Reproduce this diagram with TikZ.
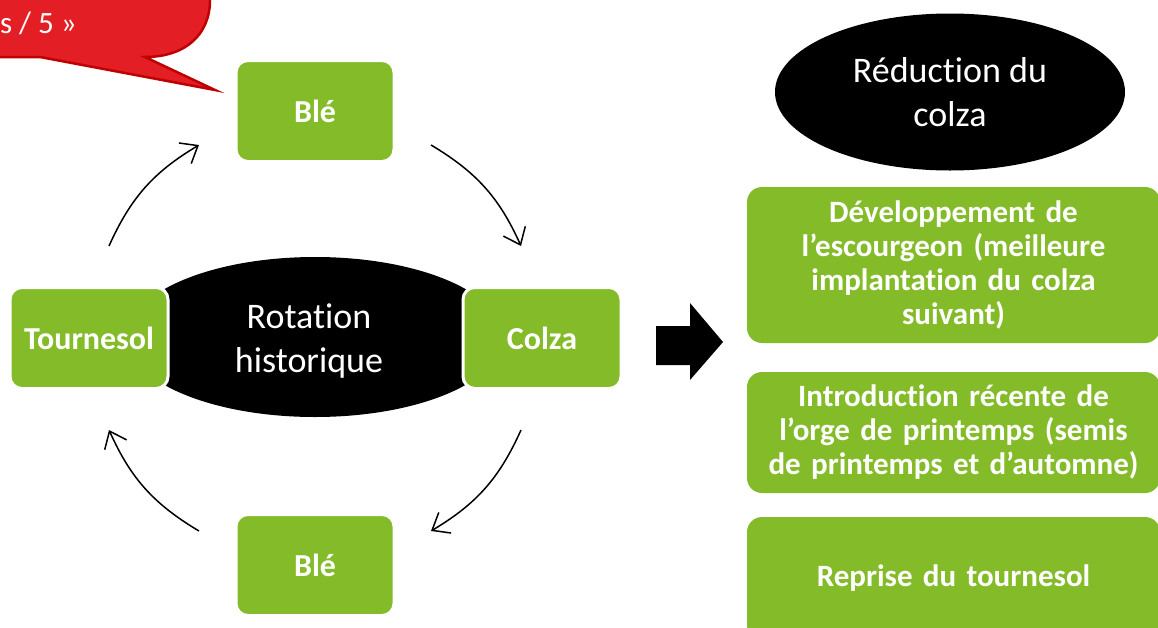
\documentclass[tikz,border=0pt]{standalone}
\usepackage{fontspec}
\setmainfont{Carlito}[Ligatures={TeX,NoCommon}]
\usetikzlibrary{arrows.meta,shapes.geometric}
\definecolor{leaf}{RGB}{132,187,41}
\definecolor{callred}{RGB}{227,30,36}
\definecolor{callborder}{RGB}{192,0,0}
\begin{document}
\begin{tikzpicture}[x=1pt,y=-1pt,
  greenbox/.style={draw=white, line width=3pt, fill=leaf, rounded corners=12pt,
    text=white, font=\bfseries\fontsize{32}{34}\selectfont, align=center,
    inner sep=0pt, minimum width=158pt, minimum height=101pt},
  sidebox/.style={fill=leaf, rounded corners=15pt, text=white,
    font=\bfseries\fontsize{31}{34}\selectfont, align=center, inner sep=0pt,
    minimum width=413pt, text width=405pt},
  blackoval/.style={ellipse, fill=black, inner sep=0pt},
  ovaltext/.style={text=white, font=\fontsize{36}{44}\selectfont, align=center, inner sep=0pt},
  cyclearrow/.style={-{Straight Barb[length=15pt,width=24pt]}, line width=1.5pt, bend left=17.5}
  ]
\useasboundingbox (0,0) rectangle (1158,627);

% callout (cut by the page edge)
\filldraw[fill=callred, draw=callborder, line width=2.5pt]
  (-10,-10) -- (210,-10) -- (210,0) .. controls (210,35) and (185,57) .. (145,57)
  -- (215,90) -- (40,57) -- (-10,57) -- cycle;
\node[anchor=base east, text=white, font=\fontsize{31}{34}\selectfont, inner sep=0pt]
  (callt) at (77,33) {s / 5 »};

% central oval
\node[blackoval, minimum width=376pt, minimum height=160pt] (rot) at (315,337) {};
\node[ovaltext, xshift=-6pt, yshift=-4pt] (rott) at (rot.center) {Rotation\\historique};

% cycle boxes
\node[greenbox] (ble1) at (315,111) {Blé};
\node[greenbox] (colza) at (542,338) {Colza};
\node[greenbox] (ble2) at (315,565) {Blé};
\node[greenbox] (tourn) at (89,338) {Tournesol};

% cycle arrows
\coordinate (a1s) at (109,246); \coordinate (a1e) at (199,145);
\coordinate (a2s) at (431,145); \coordinate (a2e) at (521,246);
\coordinate (a3s) at (521,430); \coordinate (a3e) at (431,531);
\coordinate (a4s) at (199,531); \coordinate (a4e) at (109,430);
\draw[cyclearrow] (a1s) to (a1e);
\draw[cyclearrow] (a2s) to (a2e);
\draw[cyclearrow] (a3s) to (a3e);
\draw[cyclearrow] (a4s) to (a4e);

% block arrow
\fill[black] (656,326) -- (690,326) -- (690,303) -- (723,342) -- (690,380)
  -- (690,365) -- (656,365) -- cycle;

% right side
\node[blackoval, minimum width=350pt, minimum height=157pt] (red) at (950,92) {};
\node[ovaltext] (redt) at (red.center) {Réduction du\\colza};

\node[sidebox, minimum height=156pt] (r1) at (953.5,265)
  {Développement de\\l’escourgeon (meilleure\\implantation du colza\\suivant)};
\node[sidebox, minimum height=121pt] (r2) at (953.5,432.5)
  {Introduction récente de\\l’orge de printemps (semis\\de printemps et d’automne)};
\node[sidebox, minimum height=123pt] (r3) at (953.5,578.5)
  {Reprise du tournesol};
\end{tikzpicture}
\end{document}
